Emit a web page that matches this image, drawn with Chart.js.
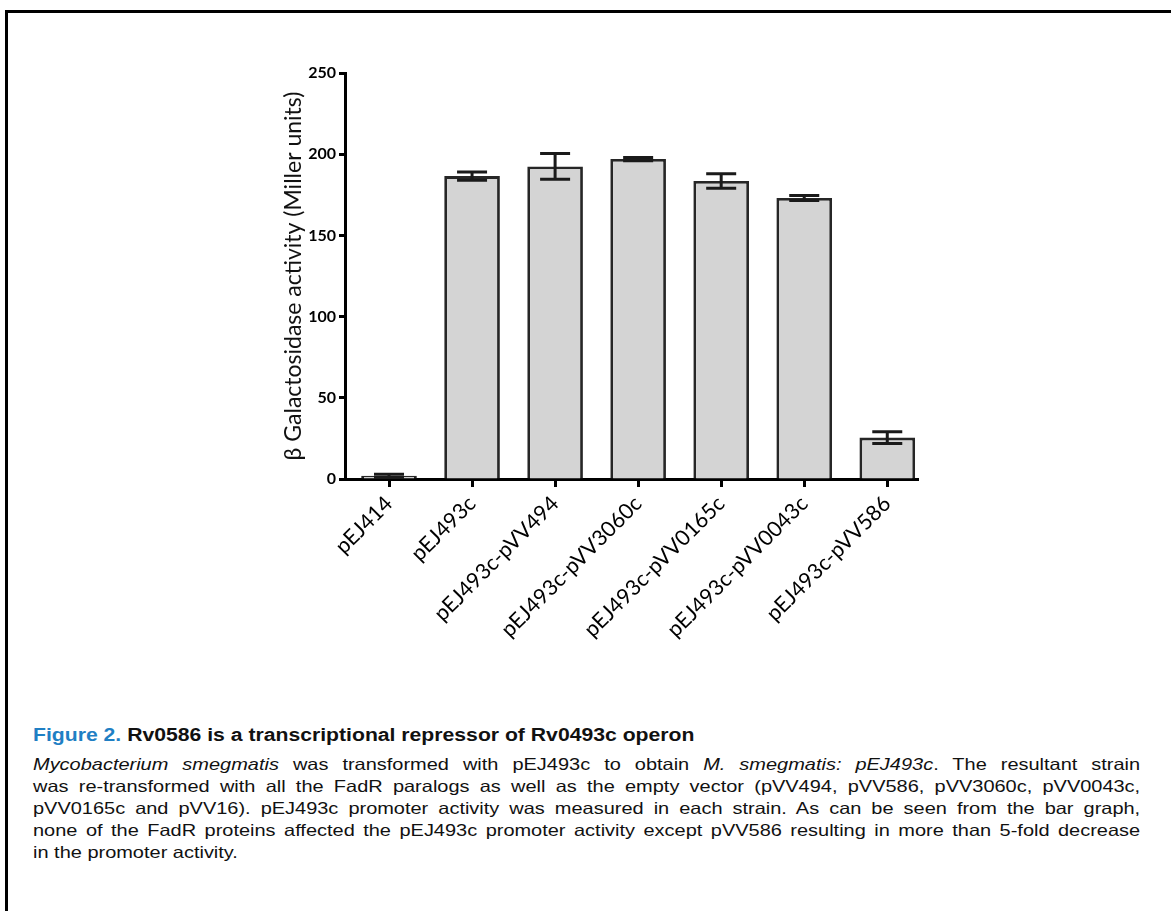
<!DOCTYPE html>
<html>
<head>
<meta charset="utf-8">
<script src="https://cdn.jsdelivr.net/npm/chart.js@4.4.0/dist/chart.umd.min.js"></script>
<style>
  body { margin: 0; background: #fff; width: 1171px; height: 911px; overflow: hidden; position: relative;
         font-family: "Liberation Sans", Arial, sans-serif; }
  #frame { position: absolute; left: 5px; top: 10px; width: 1200px; height: 950px;
           border-left: 3px solid #000; border-top: 3px solid #000; }
  #wrap { position: absolute; left: 0; top: 0; width: 1171px; height: 700px; }
  /* the source caption is set wide; stretch horizontally */
  #caption { position: absolute; left: 33px; top: 724px; width: 915px; font-size: 17.5px; line-height: 22px; color: #111;
             transform: scaleX(1.21); transform-origin: 0 0; }
  #caption .title { font-weight: bold; margin-bottom: 7px; }
  #caption .title span { color: #1f7fc4; }
  #caption .line { font-size: 16.5px; white-space: nowrap; text-align: justify; text-align-last: justify; }
  #caption .line.last { text-align-last: left; }
</style>
</head>
<body>
<div id="frame"></div>
<div id="wrap"><canvas id="galChart"></canvas></div>
<div id="caption">
  <div class="title"><span>Figure 2.</span> Rv0586 is a transcriptional repressor of Rv0493c operon</div>
  <div class="line"><i>Mycobacterium smegmatis</i> was transformed with pEJ493c to obtain <i>M. smegmatis: pEJ493c</i>. The resultant strain</div>
  <div class="line">was re-transformed with all the FadR paralogs as well as the empty vector (pVV494, pVV586, pVV3060c, pVV0043c,</div>
  <div class="line">pVV0165c and pVV16). pEJ493c promoter activity was measured in each strain. As can be seen from the bar graph,</div>
  <div class="line">none of the FadR proteins affected the pEJ493c promoter activity except pVV586 resulting in more than 5-fold decrease</div>
  <div class="line last">in the promoter activity.</div>
</div>
<script>
// strains and beta-galactosidase activity (Miller units), mean and error
const strains = ['pEJ414', 'pEJ493c', 'pEJ493c-pVV494', 'pEJ493c-pVV3060c', 'pEJ493c-pVV0165c', 'pEJ493c-pVV0043c', 'pEJ493c-pVV586'];
const activity = [2, 186.5, 192.5, 197, 183.5, 173, 25.5];
const errors = [1, 2.5, 8, 1, 4.5, 1.5, 3.6];
const yTicks = [0, 50, 100, 150, 200, 250];

const labelFont = 'Lato, "Open Sans", sans-serif';

// draw the error bars from the same data through the scales
const errorBars = {
    id: 'errorBars',
    afterDatasetsDraw(chart) {
        const { ctx, scales: { x, y } } = chart;
        ctx.save();
        ctx.strokeStyle = '#1a1a1a';
        ctx.lineWidth = 3;
        activity.forEach((v, i) => {
            const px = x.getPixelForValue(i);
            const top = y.getPixelForValue(v + errors[i]);
            const bot = y.getPixelForValue(Math.max(v - errors[i], 0));
            ctx.beginPath();
            ctx.moveTo(px, top); ctx.lineTo(px, bot);
            ctx.moveTo(px - 15, top); ctx.lineTo(px + 15, top);
            ctx.moveTo(px - 15, bot); ctx.lineTo(px + 15, bot);
            ctx.stroke();
        });
        ctx.restore();
    }
};

const ctx = document.getElementById('galChart').getContext('2d');
new Chart(ctx, {
    type: 'bar',
    data: {
        datasets: [{
            data: activity.map((v, i) => ({ x: i, y: v })),
            backgroundColor: '#d4d4d4',
            borderColor: '#262626',
            borderWidth: 2.8,
            categoryPercentage: 1,
            barPercentage: 0.67
        }]
    },
    options: {
        responsive: true,
        maintainAspectRatio: false,
        animation: false,
        layout: { padding: { left: 265, right: 253, top: 73, bottom: 0 } },
        plugins: { legend: { display: false }, tooltip: { enabled: false } },
        scales: {
            x: {
                type: 'linear',
                offset: false,
                min: -0.53,
                max: 6.37,
                afterBuildTicks: scale => { scale.ticks = strains.map((s, i) => ({ value: i })); },
                afterFit: scale => { scale.height = 221; },
                ticks: {
                    autoSkip: false,
                    minRotation: 45,
                    maxRotation: 45,
                    color: '#000',
                    padding: 4,
                    font: { family: labelFont, size: 21.5 },
                    callback: v => strains[v]
                },
                grid: { display: true, offset: false, drawOnChartArea: false, drawTicks: true, tickLength: 8, tickWidth: 3, tickColor: '#000' },
                border: { display: true, color: '#000', width: 3 }
            },
            y: {
                min: 0,
                max: 250,
                afterBuildTicks: scale => { scale.ticks = yTicks.map(v => ({ value: v })); },
                afterFit: scale => { scale.width = 80; },
                ticks: {
                    color: '#000',
                    padding: 3,
                    font: { family: labelFont, size: 16, weight: 'bold' }
                },
                grid: { display: true, drawOnChartArea: false, drawTicks: true, tickLength: 6, tickWidth: 3, tickColor: '#000' },
                border: { display: true, color: '#000', width: 3 },
                title: {
                    display: true,
                    text: 'β Galactosidase activity (Miller units)',
                    color: '#111',
                    font: { family: labelFont, size: 23 },
                    padding: { top: 15, bottom: 0 }
                }
            }
        }
    },
    plugins: [errorBars]
});
</script>
</body>
</html>
